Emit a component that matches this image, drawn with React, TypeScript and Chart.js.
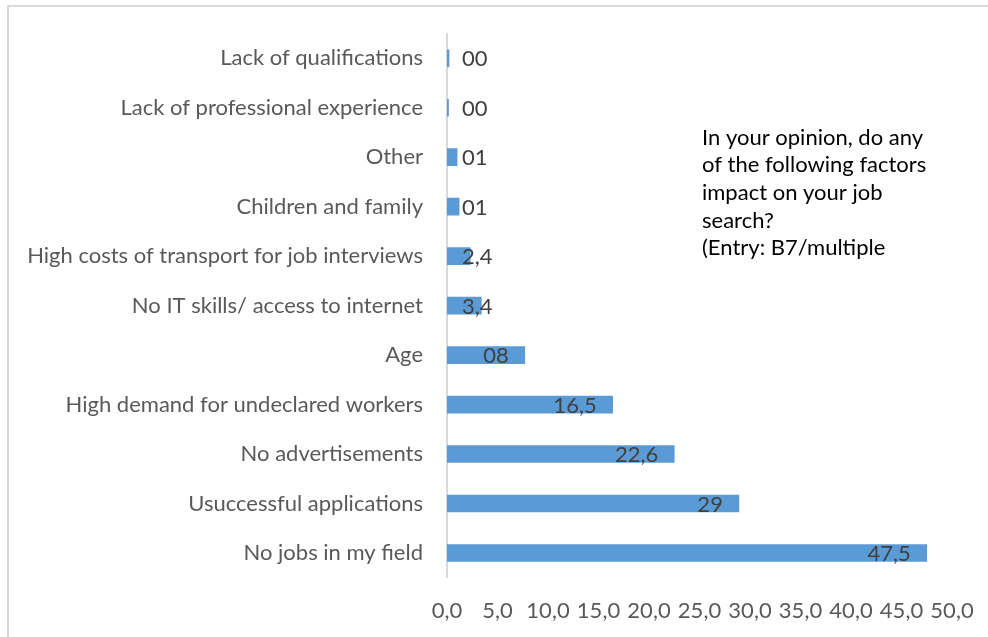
import React, { useEffect, useRef } from "react";
import { Chart, registerables } from "chart.js";

Chart.register(...registerables);

const categories = [
  "Lack of qualifications",
  "Lack of professional experience",
  "Other",
  "Children and family",
  "High costs of transport for job interviews",
  "No IT skills/ access to internet",
  "Age",
  "High demand for undeclared workers",
  "No advertisements",
  "Usuccessful applications",
  "No jobs in my field",
];

const values = [0.2, 0.15, 1.0, 1.2, 2.3, 3.4, 7.7, 16.4, 22.5, 28.9, 47.5];

const valueLabels = ["00", "00", "01", "01", "2,4", "3,4", "08", "16,5", "22,6", "29", "47,5"];

const noteLines = [
  "In your opinion, do any",
  "of the following factors",
  "impact on your job",
  "search?",
  "(Entry: B7/multiple",
];

const FONT = "Lato, 'Open Sans', sans-serif";

export default function App() {
  const ref = useRef<HTMLCanvasElement | null>(null);

  useEffect(() => {
    if (!ref.current) return;

    const framePlugin = {
      id: "frame",
      beforeDraw(chart: any) {
        const ctx = chart.ctx;
        ctx.save();
        ctx.fillStyle = "#ffffff";
        ctx.fillRect(0, 0, chart.width, chart.height);
        ctx.strokeStyle = "#d9d9d9";
        ctx.lineWidth = 2;
        ctx.beginPath();
        ctx.moveTo(8, chart.height);
        ctx.lineTo(8, 6);
        ctx.lineTo(chart.width, 6);
        ctx.stroke();
        ctx.restore();
      },
    };

    const labelPlugin = {
      id: "valueLabels",
      afterDatasetsDraw(chart: any) {
        const ctx = chart.ctx;
        const meta = chart.getDatasetMeta(0);
        const x0 = chart.scales.x.getPixelForValue(0);
        ctx.save();
        ctx.font = `22px ${FONT}`;
        ctx.fillStyle = "#404040";
        ctx.textBaseline = "middle";
        ctx.textAlign = "left";
        meta.data.forEach((bar: any, i: number) => {
          const txt = valueLabels[i];
          const w = ctx.measureText(txt).width;
          let left = bar.x - 16 - w;
          if (left < x0 + 15) left = x0 + 15;
          ctx.fillText(txt, left, bar.y + 1);
        });
        ctx.restore();
      },
    };

    const notePlugin = {
      id: "note",
      afterDraw(chart: any) {
        const ctx = chart.ctx;
        ctx.save();
        ctx.font = `22px ${FONT}`;
        ctx.fillStyle = "#000000";
        ctx.textBaseline = "alphabetic";
        ctx.textAlign = "left";
        noteLines.forEach((line, i) => {
          ctx.fillText(line, 702, 144.5 + i * 27.7);
        });
        ctx.restore();
      },
    };

    const chart = new Chart(ref.current, {
      type: "bar",
      data: {
        labels: categories,
        datasets: [
          {
            data: values,
            backgroundColor: "#5b9bd5",
            borderWidth: 0,
            barThickness: 17,
          },
        ],
      },
      options: {
        indexAxis: "y",
        animation: false,
        responsive: false,
        maintainAspectRatio: false,
        layout: { padding: { left: 0, right: 36, top: 33.5, bottom: 0 } },
        plugins: {
          legend: { display: false },
          tooltip: { enabled: false },
          title: { display: false },
        },
        scales: {
          x: {
            min: 0,
            max: 50,
            grid: { display: false, drawTicks: false },
            border: { display: false },
            ticks: {
              stepSize: 5,
              padding: 20,
              color: "#595959",
              font: { family: FONT, size: 22 },
              maxRotation: 0,
              autoSkip: false,
              callback: (v: any) => Number(v).toFixed(1).replace(".", ","),
            },
            afterFit: (scale: any) => {
              scale.height = 59.3;
              scale.paddingLeft = 0;
              scale.paddingRight = 0;
            },
          },
          y: {
            grid: { display: false, drawTicks: false },
            border: { display: true, color: "#d9d9d9", width: 2 },
            ticks: {
              padding: 24,
              color: "#595959",
              font: { family: FONT, size: 22 },
              autoSkip: false,
            },
            afterFit: (scale: any) => {
              scale.width = 447;
              scale.paddingTop = 0;
              scale.paddingBottom = 0;
            },
          },
        },
      },
      plugins: [framePlugin, labelPlugin, notePlugin],
    });

    return () => chart.destroy();
  }, []);

  return (
    <div style={{ position: "fixed", left: 0, top: 0, width: 988, height: 637, background: "#fff" }}>
      <canvas ref={ref} width={988} height={637} style={{ display: "block" }} />
    </div>
  );
}
